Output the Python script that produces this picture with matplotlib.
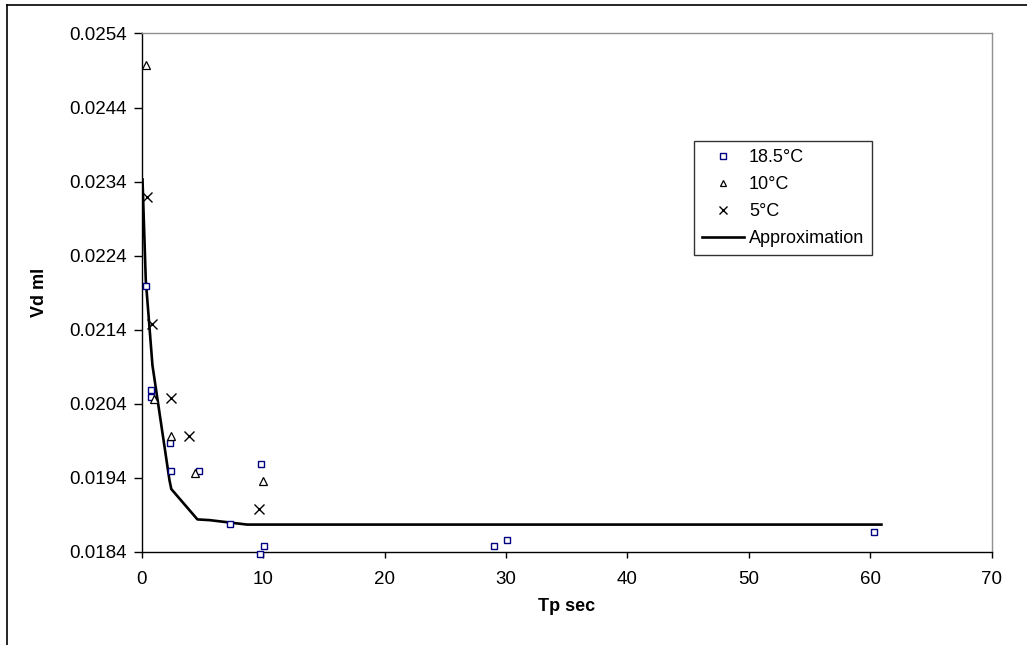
import matplotlib.pyplot as plt
from matplotlib.lines import Line2D
import numpy as np

plt.rcParams['font.family'] = ['Liberation Sans', 'DejaVu Sans']

# measured points, one set per temperature
tp_185 = [0.35, 0.82, 0.80, 2.33, 2.42, 4.70, 7.27, 9.80, 10.10, 9.72, 29.05, 30.07, 60.3]
vd_185 = [0.02199, 0.02059, 0.02049, 0.01987, 0.01949, 0.01949, 0.01878, 0.01959,
          0.01848, 0.01837, 0.01848, 0.01856, 0.01867]
tp_10 = [0.39, 1.00, 2.39, 4.37, 9.97]
vd_10 = [0.02498, 0.02047, 0.01997, 0.01947, 0.01936]
tp_5 = [0.47, 0.88, 2.39, 3.87, 9.67]
vd_5 = [0.02319, 0.02148, 0.02048, 0.01997, 0.01898]

# approximation curve
tp_fit = [0.08, 0.35, 0.9, 2.3, 2.45, 4.6, 5.6, 8.7, 10, 30, 60.9]
vd_fit = [0.02343, 0.02207, 0.02092, 0.01937, 0.01925, 0.01884, 0.01883,
          0.01877, 0.01877, 0.01877, 0.01877]

ytick_vals = np.round(np.arange(0.0184, 0.02545, 0.001), 4)
xtick_vals = np.arange(0, 71, 10)

fig = plt.figure(figsize=(10.27, 6.45), dpi=100)
ax = fig.add_axes([0.1378, 0.1442, 0.8281, 0.8039])

ax.plot(tp_185, vd_185, 's', ms=5, mfc='white', mec='#000080', mew=1.0,
        label='18.5°C', clip_on=False, zorder=3)
ax.plot(tp_10, vd_10, '^', ms=6, mfc='white', mec='black', mew=0.9,
        label='10°C', clip_on=False, zorder=3)
ax.plot(tp_5, vd_5, 'x', ms=7, color='black', mew=1.0,
        label='5°C', clip_on=False, zorder=3)
ax.plot(tp_fit, vd_fit, '-', color='black', lw=1.9, label='Approximation', zorder=2)

ax.set_xlim(0, 70)
ax.set_ylim(0.0184, 0.0254)
ax.set_xticks(xtick_vals)
ax.set_yticks(ytick_vals)
ax.set_yticklabels(['%.4f' % v for v in ytick_vals])
ax.tick_params(axis='y', direction='out', length=6, width=1, pad=4.5, labelsize=13.5)
ax.tick_params(axis='x', direction='out', length=4.5, width=1, pad=9, labelsize=13.5)

for s in ['top', 'right']:
    ax.spines[s].set_color('#909090')
    ax.spines[s].set_linewidth(1.0)
for s in ['left', 'bottom']:
    ax.spines[s].set_color('black')
    ax.spines[s].set_linewidth(1.0)

ax.set_xlabel('Tp sec', fontsize=13, fontweight='bold')
ax.set_ylabel('Vd ml', fontsize=13, fontweight='bold')
ax.xaxis.set_label_coords(0.5, -0.089)
ax.yaxis.set_label_coords(-0.110, 0.5)

leg = ax.legend(loc='upper left', bbox_to_anchor=(0.6758, 0.7814),
                bbox_transform=fig.transFigure, fontsize=13, frameon=True,
                fancybox=False, edgecolor='black', borderaxespad=0,
                handlelength=2.3, handletextpad=0.3, labelspacing=0.55,
                borderpad=0.45, markerscale=0.8)
leg.get_frame().set_linewidth(1.0)

# outer border of the chart
fig.add_artist(Line2D([0.0073, 1.0], [0.9915, 0.9915], color='black', lw=1.2,
                      transform=fig.transFigure))
fig.add_artist(Line2D([0.0073, 0.0073], [0.0, 0.9915], color='black', lw=1.2,
                      transform=fig.transFigure))

fig.savefig('out.png', dpi=100)
